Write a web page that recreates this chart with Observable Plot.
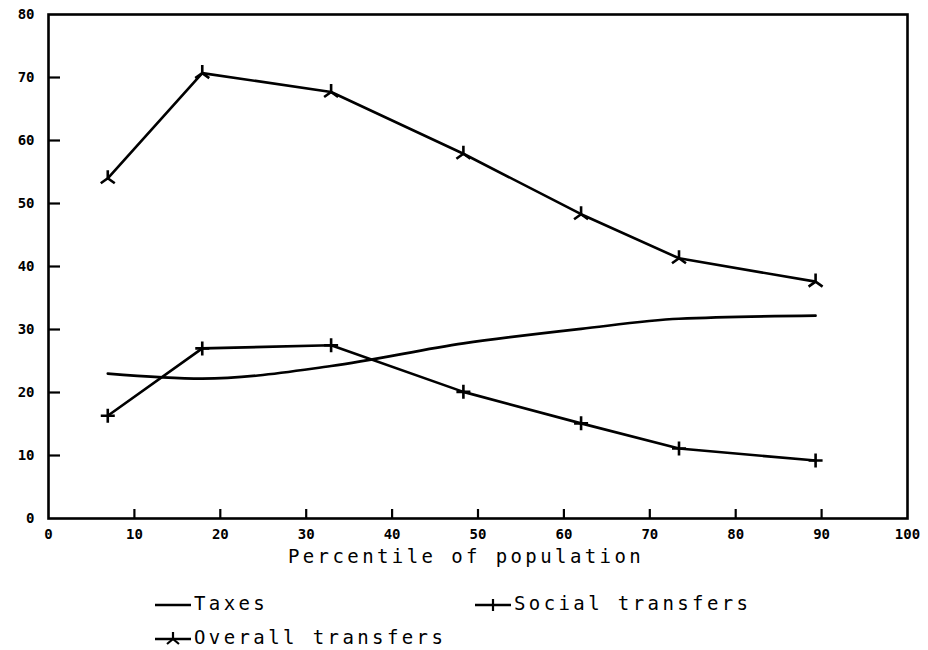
<!DOCTYPE html>
<html>
<head>
<meta charset="utf-8">
<script src="https://cdn.jsdelivr.net/npm/d3@7"></script>
<script src="https://cdn.jsdelivr.net/npm/@observablehq/plot@0.6"></script>
<style>
  body { margin: 0; background: #fff; }
  #legend { position: relative; width: 928px; height: 70px; font-family: "DejaVu Sans Mono", monospace; font-size: 19px; letter-spacing: 3.4px; color: #000; }
  .item { position: absolute; display: flex; align-items: center; height: 24px; }
  .item svg { display: block; margin-right: 2px; }
</style>
</head>
<body>
<div id="chart"></div>
<div id="legend"></div>
<script>
// ---- data ----
const percentiles = [6.9, 17.9, 32.9, 48.3, 62.0, 73.4, 89.3];
const taxes = [23.0, 22.2, 24.2, 27.8, 30.1, 31.7, 32.2];
const socialTransfers = [16.3, 27.0, 27.5, 20.1, 15.1, 11.1, 9.2];
const overallTransfers = [54.0, 70.7, 67.7, 57.9, 48.3, 41.3, 37.6];
const seriesNames = ["Taxes", "Social transfers", "Overall transfers"];
const xTicks = [0, 10, 20, 30, 40, 50, 60, 70, 80, 90, 100];
const yTicks = [0, 10, 20, 30, 40, 50, 60, 70, 80];
const xLabel = "Percentile of population";

const rows = (vals) => percentiles.map((p, i) => ({x: p, y: vals[i]}));
const taxRows = rows(taxes);
const socialRows = rows(socialTransfers);
const overallRows = rows(overallTransfers);

// custom marker: stem up, two legs down-left / down-right
const overallSymbol = {
  draw(ctx, size) {
    ctx.moveTo(0, 0); ctx.lineTo(0, -8);
    ctx.moveTo(0, 0); ctx.lineTo(-7, 5);
    ctx.moveTo(0, 0); ctx.lineTo(7, 5);
  }
};
const plusSymbol = {
  draw(ctx, size) {
    ctx.moveTo(-7, 0); ctx.lineTo(7, 0);
    ctx.moveTo(0, -7); ctx.lineTo(0, 7);
  }
};

const W = 928, H = 580, mL = 48, mR = 21, mT = 14, mB = 62;
const innerW = W - mL - mR, innerH = H - mT - mB;
const lw = 2.6;

const chart = Plot.plot({
  width: W, height: H,
  marginLeft: mL, marginRight: mR, marginTop: mT, marginBottom: mB,
  style: {fontFamily: "DejaVu Sans Mono, monospace", fontSize: "14px", color: "#000", background: "#fff"},
  x: {domain: [0, 100]},
  y: {domain: [0, 80]},
  marks: [
    Plot.frame({stroke: "#000", strokeWidth: lw}),
    Plot.axisX({ticks: xTicks, tickSize: 0, tickPadding: 11, fontWeight: "bold", fontSize: 14, label: null, tickFormat: d => String(d)}),
    Plot.axisY({ticks: yTicks, tickSize: 0, tickPadding: 14, fontWeight: "bold", fontSize: 14, label: null, tickFormat: d => String(d)}),
    Plot.tickX(xTicks.slice(1, -1), {x: d => d, insetTop: innerH - 9, stroke: "#000", strokeWidth: 2.2}),
    Plot.tickY(yTicks.slice(1, -1), {y: d => d, insetRight: innerW - 12, stroke: "#000", strokeWidth: 2.2}),
    Plot.line(taxRows, {x: "x", y: "y", stroke: "#000", strokeWidth: lw, curve: "monotone-x"}),
    Plot.line(socialRows, {x: "x", y: "y", stroke: "#000", strokeWidth: lw}),
    Plot.dot(socialRows, {x: "x", y: "y", symbol: plusSymbol, stroke: "#000", strokeWidth: lw, r: 5}),
    Plot.line(overallRows, {x: "x", y: "y", stroke: "#000", strokeWidth: lw}),
    Plot.dot(overallRows, {x: "x", y: "y", symbol: overallSymbol, stroke: "#000", strokeWidth: lw, r: 5}),
    Plot.text([xLabel], {text: d => d, frameAnchor: "bottom", dy: 44, dx: -12, fontSize: 19, fontWeight: "normal", fill: "#000"})
  ]
});
document.getElementById("chart").append(chart);
// letter spacing for axis label
chart.querySelectorAll("text").forEach(t => { if (t.textContent === xLabel) t.setAttribute("letter-spacing", "3.4"); });

// ---- legend ----
const legend = document.getElementById("legend");
const swatch = (kind) => {
  let s = `<svg width="38" height="24" viewBox="0 0 38 24"><line x1="1" y1="14" x2="37" y2="14" stroke="#000" stroke-width="2.4"/>`;
  if (kind === 1) s += `<path d="M13,14L25,14M19,8L19,20" stroke="#000" stroke-width="2.2" fill="none"/>`;
  if (kind === 2) s += `<path d="M19,14L19,7M19,14L13,19M19,14L25,19" stroke="#000" stroke-width="2.2" fill="none"/>`;
  return s + `</svg>`;
};
const pos = [[154, 11], [474, 11], [154, 45]];
seriesNames.forEach((name, i) => {
  const d = document.createElement("div");
  d.className = "item";
  d.style.left = pos[i][0] + "px";
  d.style.top = pos[i][1] + "px";
  d.innerHTML = swatch(i) + `<span>${name}</span>`;
  legend.append(d);
});
</script>
</body>
</html>
